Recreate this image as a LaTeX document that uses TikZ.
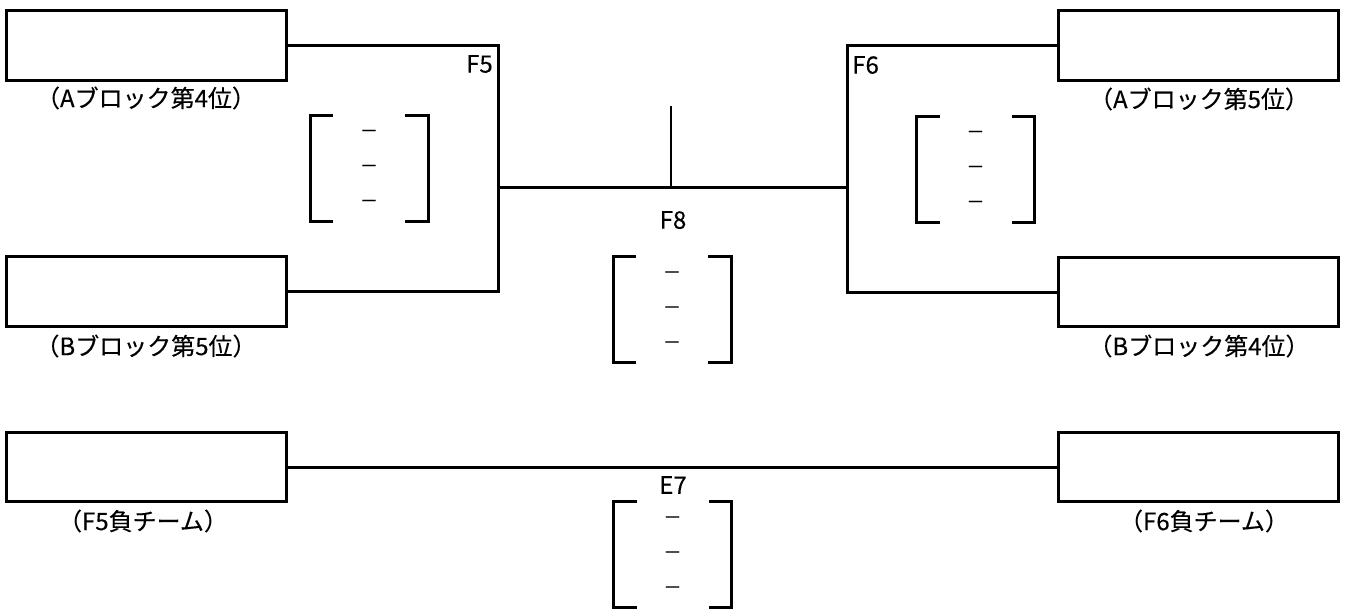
\documentclass[tikz,border=0pt]{standalone}
\usepackage{fontspec}
\setmainfont{Noto Sans CJK JP}[FakeBold=0.3]
\begin{document}
\begin{tikzpicture}[x=0.75pt,y=-0.75pt,
  entry/.style={draw,line width=2.25pt,minimum width=210pt,minimum height=52pt,inner sep=0pt,outer sep=0pt},
  wire/.style={line width=2.25pt},
  thinwire/.style={line width=1.4pt},
  lbl/.style={font=\fontsize{18}{20}\selectfont,inner sep=0pt},
  dashlbl/.style={font=\fontsize{15}{16}\selectfont,inner sep=0pt},
  scorepic/.pic={
    \draw[wire] (-36,-53) -- (-59,-53) -- (-59,53) -- (-36,53);
    \draw[wire] (36,-53) -- (59,-53) -- (59,53) -- (36,53);
    \node[dashlbl] (-d1) at (0,-35) {\scalebox{1.5}[1]{–}};
    \node[dashlbl] (-d2) at (0,0) {\scalebox{1.5}[1]{–}};
    \node[dashlbl] (-d3) at (0,35) {\scalebox{1.5}[1]{–}};
  }]
\useasboundingbox (0,0) rectangle (1346,608);
% team boxes
\node[entry] (a4) at (146,45.5) {};
\node[entry] (b5) at (146,291.5) {};
\node[entry] (a5) at (1198.5,45.5) {};
\node[entry] (b4) at (1198.5,292) {};
\node[entry] (l5) at (146,467) {};
\node[entry] (l6) at (1198.5,467) {};
% labels under boxes
\node[lbl] (ta4) at (146,98) {（Aブロック第4位）};
\node[lbl] (tb5) at (146,346) {（Bブロック第5位）};
\node[lbl] (ta5) at (1199,99) {（Aブロック第5位）};
\node[lbl] (tb4) at (1199,346) {（Bブロック第4位）};
\node[lbl] (tl5) at (143,521) {（F5負チーム）};
\node[lbl] (tl6) at (1204,521) {（F6負チーム）};
% junctions
\coordinate (f5) at (498,187);
\coordinate (f6) at (847,187);
\coordinate (f8) at (671,187);
\coordinate (f8top) at (671,106);
% connectors
\draw[wire] (a4.east) -| (f5) |- (b5.east);
\draw[wire] (a5.west) -| (f6) |- (b4.west);
\draw[wire] (f5) -- (f6);
\draw[thinwire] (f8top) -- (f8);
\draw[wire] (l5.east) -- (l6.west);
% match labels
\node[lbl,anchor=east] (tF5) at (493,64) {F5};
\node[lbl,anchor=west] (tF6) at (852,65) {F6};
\node[lbl] (tF8) at (673,220) {F8};
\node[lbl] (tE7) at (673,485) {E7};
% score brackets
\pic (s5) at (369,168) {scorepic};
\pic (s6) at (975.5,169) {scorepic};
\pic (s8) at (672,309.5) {scorepic};
\pic (s7) at (672.5,554.5) {scorepic};
\end{tikzpicture}
\end{document}
